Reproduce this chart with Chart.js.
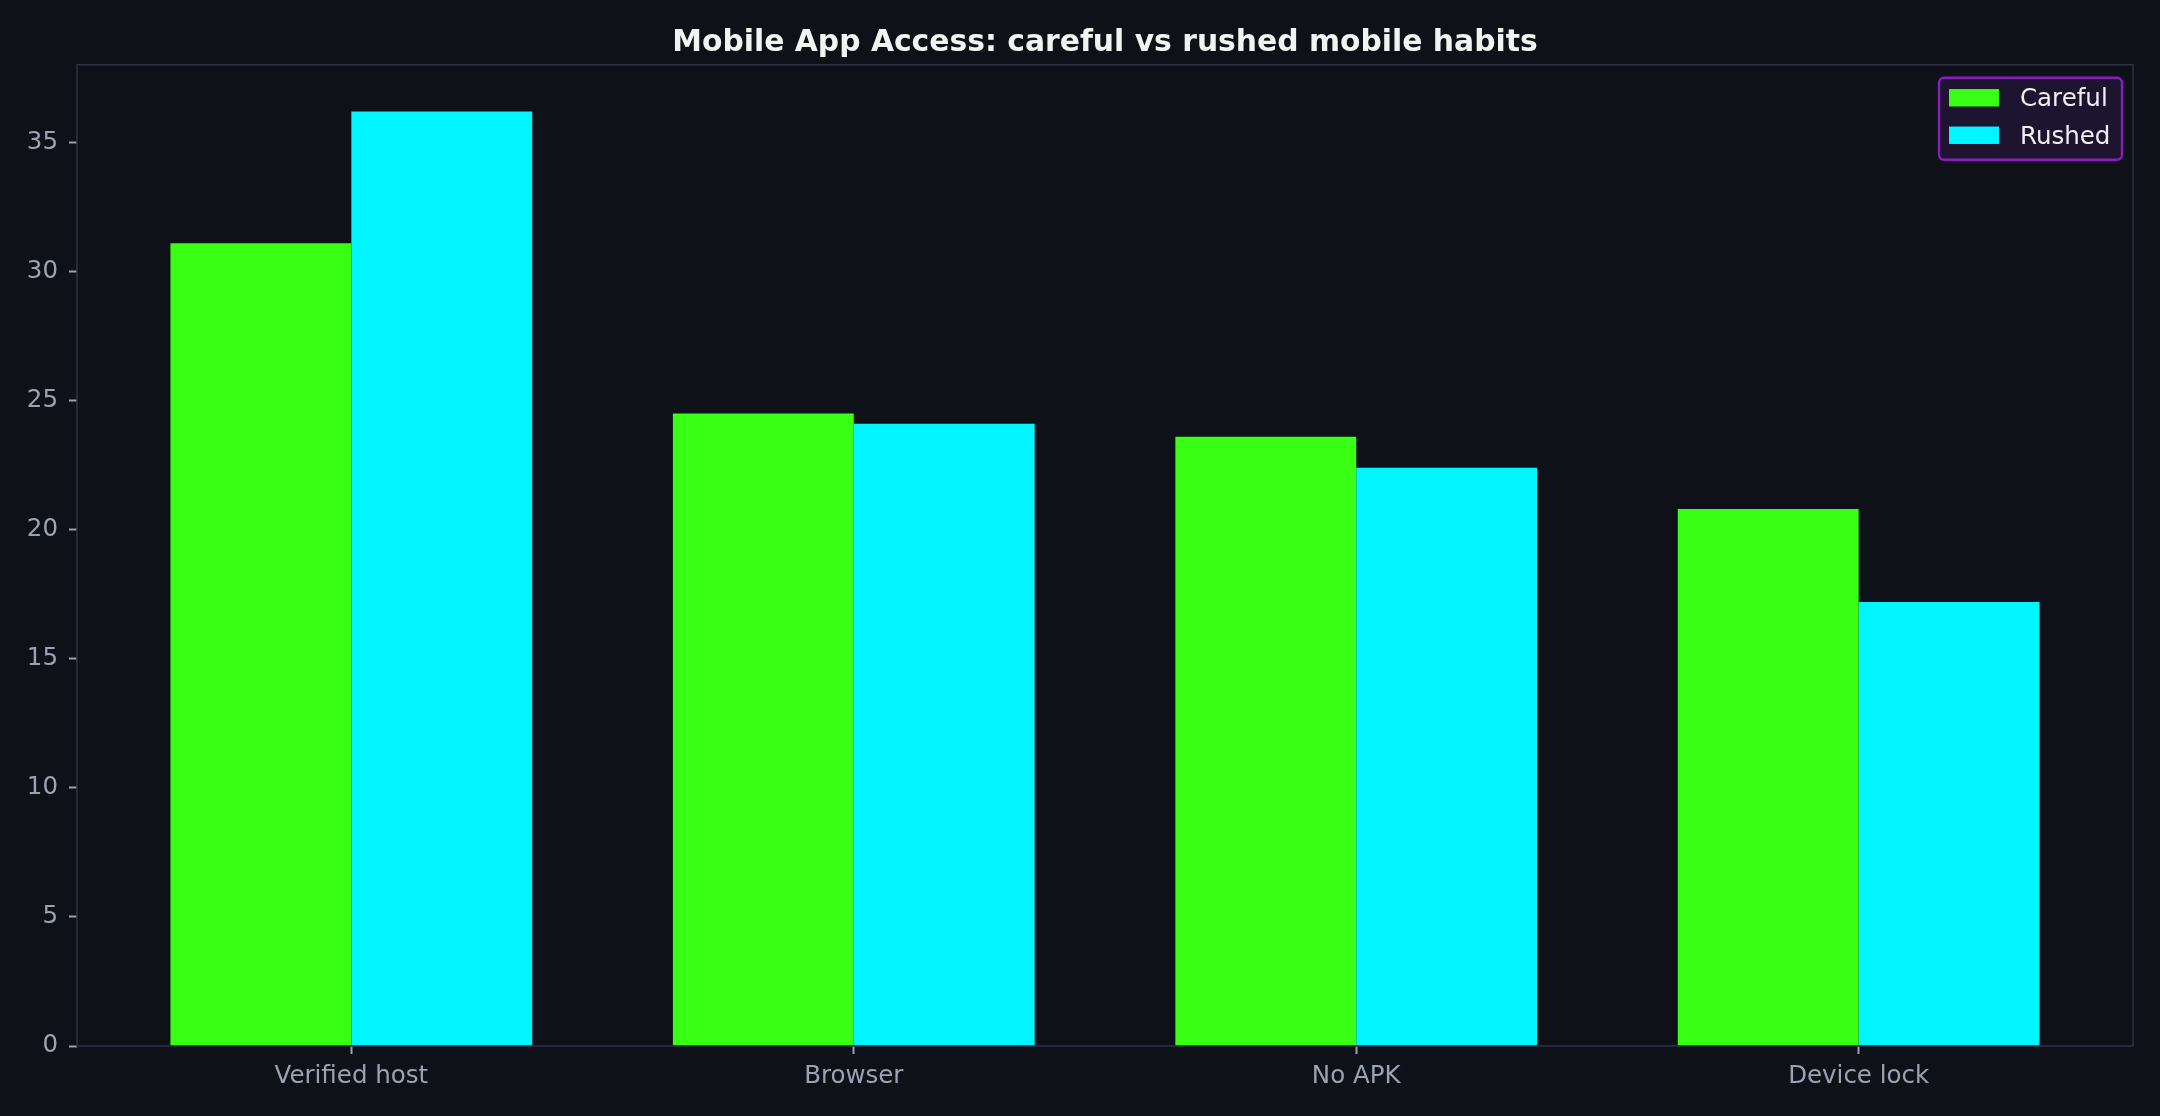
<!DOCTYPE html>
<html>
<head>
<meta charset="utf-8">
<title>Mobile App Access</title>
<script src="https://cdn.jsdelivr.net/npm/chart.js@4.4.1/dist/chart.umd.min.js"></script>
<style>
  html, body { margin: 0; padding: 0; background: #0e1117; }
  #wrap { width: 2160px; height: 1116px; position: relative; }
</style>
</head>
<body>
<div id="wrap"><canvas id="habitsChart"></canvas></div>
<script>
// values
const categories = ['Verified host', 'Browser', 'No APK', 'Device lock']
const carefulValues = [31.1, 24.5, 23.6, 20.8]
const rushedValues = [36.2, 24.1, 22.4, 17.2]
const yTicks = [0, 5, 10, 15, 20, 25, 30, 35]

const BG = '#0e1117'
const SPINE = '#2e3048'
const TICK_TEXT = '#9aa2b3'
const FONT = 'DejaVu Sans'

// paint the whole canvas dark
const bgPlugin = {
  id: 'bg',
  beforeDraw(chart) {
    const ctx = chart.ctx
    ctx.save()
    ctx.fillStyle = BG
    ctx.fillRect(0, 0, chart.width, chart.height)
    ctx.restore()
  }
}

// matplotlib-like box around the plot area, drawn over the bars
const framePlugin = {
  id: 'frame',
  afterDatasetsDraw(chart) {
    const { ctx, chartArea: a } = chart
    ctx.save()
    ctx.strokeStyle = SPINE
    ctx.lineWidth = 1.6
    ctx.strokeRect(a.left, a.top, a.right - a.left, a.bottom - a.top)
    ctx.restore()
  }
}

// legend box in the upper right corner of the plot
const boxLegendPlugin = {
  id: 'boxLegend',
  afterDraw(chart) {
    const { ctx, chartArea: a } = chart
    const w = 183, h = 82, r = 5
    const x = a.right - 11 - w
    const y = a.top + 13
    ctx.save()
    ctx.beginPath()
    ctx.roundRect(x, y, w, h, r)
    ctx.fillStyle = '#1d1530'
    ctx.fill()
    ctx.lineWidth = 2.4
    ctx.strokeStyle = '#8a1cc0'
    ctx.stroke()
    ctx.font = '24.5px "' + FONT + '"'
    ctx.textBaseline = 'middle'
    ctx.textAlign = 'left'
    chart.data.datasets.forEach((ds, i) => {
      const cy = y + 20 + i * 37.5
      ctx.fillStyle = ds.backgroundColor
      ctx.fillRect(x + 10, cy - 8.7, 50, 17.4)
      ctx.fillStyle = '#eef0f2'
      ctx.fillText(ds.label, x + 81, cy + 2)
    })
    ctx.restore()
  }
}

const ctx = document.getElementById('habitsChart').getContext('2d')

// eslint-disable-next-line no-undef
new Chart(ctx, {
  type: 'bar',
  data: {
    datasets: [
      {
        label: 'Careful',
        data: carefulValues.map((v, i) => ({ x: i, y: v })),
        backgroundColor: '#39ff14',
        borderWidth: 0
      },
      {
        label: 'Rushed',
        data: rushedValues.map((v, i) => ({ x: i, y: v })),
        backgroundColor: '#00f5ff',
        borderWidth: 0
      }
    ]
  },
  options: {
    responsive: true,
    maintainAspectRatio: false,
    devicePixelRatio: 1,
    animation: false,
    categoryPercentage: 0.72,
    barPercentage: 1,
    layout: {
      padding: { left: 0, right: 27, top: 0, bottom: 0 }
    },
    plugins: {
      legend: { display: false },
      tooltip: { enabled: false },
      title: {
        display: true,
        fullSize: false,
        text: 'Mobile App Access: careful vs rushed mobile habits',
        color: '#f2f4f2',
        font: { family: FONT, size: 29.8, weight: 'bold' },
        padding: { top: 25, bottom: 4 }
      }
    },
    scales: {
      x: {
        type: 'linear',
        offset: false,
        min: -0.546,
        max: 3.546,
        afterBuildTicks: axis => { axis.ticks = categories.map((c, i) => ({ value: i })) },
        afterFit: axis => { axis.height = 70 },
        ticks: {
          callback: v => categories[v] || '',
          color: TICK_TEXT,
          font: { family: FONT, size: 24.5 },
          padding: 8,
          maxRotation: 0,
          autoSkip: false
        },
        grid: {
          offset: false,
          drawOnChartArea: false,
          drawTicks: true,
          tickLength: 8,
          tickWidth: 2,
          tickColor: TICK_TEXT
        },
        border: { display: false }
      },
      y: {
        min: 0,
        max: 38.01,
        afterBuildTicks: axis => { axis.ticks = yTicks.map(v => ({ value: v })) },
        afterFit: axis => { axis.width = 77 },
        ticks: {
          color: TICK_TEXT,
          font: { family: FONT, size: 24.5 },
          padding: 11
        },
        grid: {
          drawOnChartArea: false,
          drawTicks: true,
          tickLength: 8,
          tickWidth: 2,
          tickColor: TICK_TEXT
        },
        border: { display: false }
      }
    }
  },
  plugins: [bgPlugin, framePlugin, boxLegendPlugin]
})
</script>
</body>
</html>
